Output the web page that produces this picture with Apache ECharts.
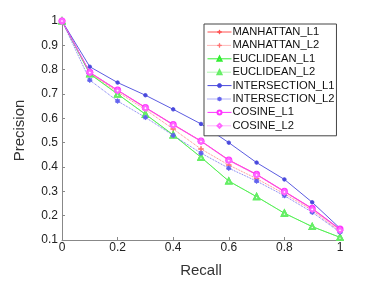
<!DOCTYPE html>
<html><head><meta charset="utf-8">
<script src="https://cdn.jsdelivr.net/npm/echarts@6/dist/echarts.min.js"></script>
<style>html,body{margin:0;padding:0;background:#fff}#c{width:374px;height:285px}</style>
</head><body><div id="c"></div>
<script>
var recall = [0,0.1,0.2,0.3,0.4,0.5,0.6,0.7,0.8,0.9,1.0];
var manhattanL1 = [1,0.788,0.715,0.644,0.574,0.506,0.428,0.369,0.299,0.229,0.143];
var manhattanL2 = [1,0.785,0.708,0.636,0.556,0.474,0.408,0.352,0.290,0.222,0.135];
var euclideanL1 = [1,0.783,0.700,0.617,0.532,0.440,0.342,0.278,0.210,0.155,0.111];
var euclideanL2 = [1,0.782,0.699,0.616,0.531,0.440,0.342,0.278,0.210,0.155,0.111];
var intersectionL1 = [1,0.812,0.747,0.695,0.637,0.577,0.500,0.418,0.349,0.255,0.148];
var intersectionL2 = [1,0.757,0.671,0.604,0.530,0.457,0.395,0.342,0.282,0.214,0.132];
var cosineL1 = [1,0.789,0.716,0.645,0.575,0.507,0.429,0.370,0.300,0.230,0.145];
var cosineL2 = [1,0.788,0.714,0.642,0.572,0.505,0.426,0.367,0.297,0.226,0.140];
var xTicks = [0,0.2,0.4,0.6,0.8,1];
var yTicks = [0.1,0.2,0.3,0.4,0.5,0.6,0.7,0.8,0.9,1];

var PLUS = 'path://M4.5,0h1v4.5h4.5v1h-4.5v4.5h-1v-4.5h-4.5v-1h4.5z';
var STAR = 'path://M4.4,0h1.2v3.6l2.6,-2.6l0.8,0.8l-2.6,2.6h3.6v1.2h-3.6l2.6,2.6l-0.8,0.8l-2.6,-2.6v3.6h-1.2v-3.6l-2.6,2.6l-0.8,-0.8l2.6,-2.6h-3.6v-1.2h3.6l-2.6,-2.6l0.8,-0.8l2.6,2.6z';

var specs = [
  ['MANHATTAN_L1', manhattanL1, '#ff5050', 'solid', PLUS, 5],
  ['MANHATTAN_L2', manhattanL2, '#ff7070', 'dotted', PLUS, 5],
  ['EUCLIDEAN_L1', euclideanL1, '#33ee33', 'solid', 'emptyTriangle', 5],
  ['EUCLIDEAN_L2', euclideanL2, '#66ee66', 'dotted', 'emptyTriangle', 5],
  ['INTERSECTION_L1', intersectionL1, '#4848dd', 'solid', 'circle', 3.5],
  ['INTERSECTION_L2', intersectionL2, '#6060ee', 'dotted', STAR, 4.5],
  ['COSINE_L1', cosineL1, '#ff33ff', 'solid', 'emptyCircle', 5],
  ['COSINE_L2', cosineL2, '#ff66ff', 'dotted', 'emptyDiamond', 5]
];

var series = specs.map(function(s){
  return {
    name: s[0], type: 'line',
    data: recall.map(function(r,i){return [r, s[1][i]];}),
    symbol: s[4], symbolSize: s[5],
    lineStyle: {color: s[2], width: 0.9, type: s[3]},
    itemStyle: {color: s[2], borderColor: s[2], borderWidth: 0.9},
    emphasis: {disabled: true},
    animation: false, z: 2
  };
});

var legendData = specs.map(function(s){
  return {name: s[0],
    itemStyle: {color: s[2], borderColor: s[2], borderWidth: 0.9},
    lineStyle: {color: s[2], width: 1, type: s[3]}};
});

var fmt = function(v){ var r = Math.round(v*10)/10; return String(r); };
var font = "'Liberation Sans', Arial, Helvetica, sans-serif";

var chart = echarts.init(document.getElementById('c'), null, {renderer: 'canvas'});
chart.setOption({
  animation: false,
  backgroundColor: '#fff',
  grid: {left: 62, top: 21, width: 278, height: 219, containLabel: false},
  xAxis: {
    type: 'value', min: 0, max: 1, interval: 0.2,
    name: 'Recall', nameLocation: 'middle', nameGap: 23,
    nameTextStyle: {fontSize: 15, color: '#333', fontFamily: font},
    axisLine: {show: true, lineStyle: {color: '#888', width: 1}},
    axisTick: {show: true, inside: true, length: 3, lineStyle: {color: '#888'}},
    axisLabel: {fontSize: 12, color: '#222', fontFamily: font, margin: 2, formatter: fmt,
      customValues: xTicks},
    splitLine: {show: false}
  },
  yAxis: {
    type: 'value', min: 0.1, max: 1, interval: 0.1,
    name: 'Precision', nameLocation: 'middle', nameGap: 35, nameRotate: 90,
    nameTextStyle: {fontSize: 15, color: '#333', fontFamily: font},
    axisLine: {show: true, lineStyle: {color: '#888', width: 1}},
    axisTick: {show: true, inside: true, length: 3, lineStyle: {color: '#888'}},
    axisLabel: {fontSize: 12, color: '#222', fontFamily: font, margin: 4, formatter: fmt,
      customValues: yTicks},
    splitLine: {show: false}
  },
  legend: {
    orient: 'vertical', left: 204, top: 24,
    backgroundColor: '#fff', borderColor: '#444', borderWidth: 1,
    padding: [2, 2, 4, 3],
    itemWidth: 24, itemHeight: 5, itemGap: 1.4,
    textStyle: {fontSize: 11.2, lineHeight: 12, color: '#111', fontFamily: font, padding: [0,0,0,-4]},
    data: legendData
  },
  series: series
});
</script></body></html>
